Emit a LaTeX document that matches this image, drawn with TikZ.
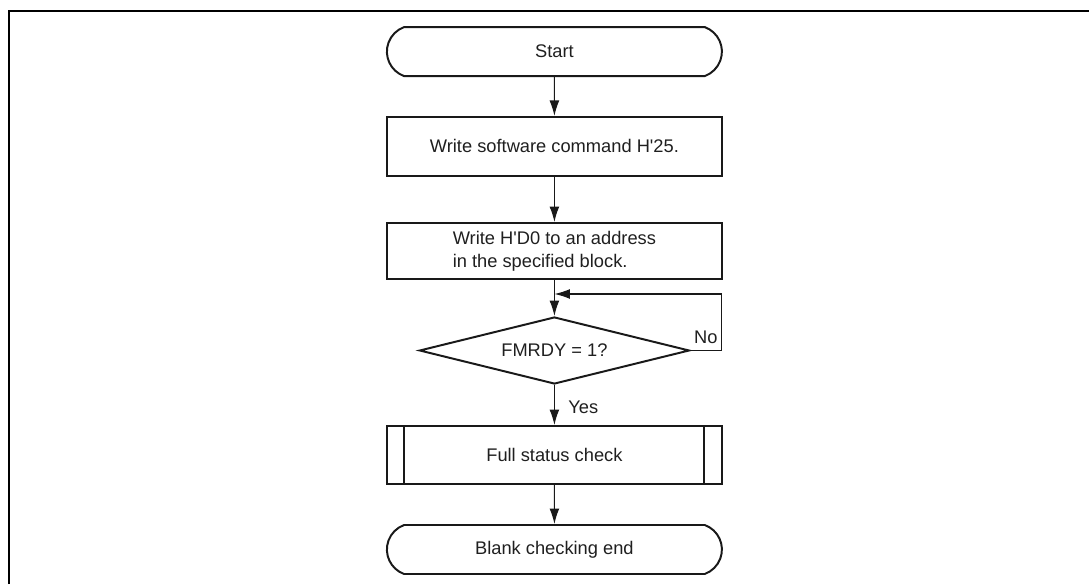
\documentclass[tikz,border=0pt]{standalone}
\usepackage{fontspec}
\setmainfont{Liberation Sans}
\usetikzlibrary{shapes.geometric,shapes.misc,arrows.meta}

\begin{document}
\begin{tikzpicture}[font=\fontsize{13}{16.4}\selectfont,
  box/.style={draw=black!90,line width=1.4pt,text=black!88,align=center,inner sep=0pt,minimum width=8.375cm},
  term/.style={box,rounded rectangle,rounded rectangle arc length=140,minimum height=1.225cm},
  dec/.style={box,diamond,aspect=4,minimum width=6.75cm,minimum height=1.675cm},
  flow/.style={-{Latex[length=11pt,width=7pt]},black!90,line width=0.8pt},
  lab/.style={text=black!88,inner sep=1.5pt}]

\useasboundingbox (0,0) rectangle (27.225,14.6);
% frame, right and bottom edges run off the page
\draw[black,line width=2.1pt] (0.225,0) -- (0.225,14.325) -- (27.225,14.325);

% steps
\node[term] (st) at (13.86,13.31) {Start};
\node[box,minimum height=1.475cm] (cmd) at (13.86,10.94) {Write software command H\textquotesingle 25.};
\node[box,minimum height=1.4cm,align=left] (adr) at (13.86,8.325) {Write H\textquotesingle D0 to an address\\in the specified block.};
\node[dec] (rdy) at (13.86,5.8375) {FMRDY = 1?};
\node[box,minimum height=1.45cm] (fsc) at (13.86,3.225) {Full status check};
\draw[black!90,line width=1.4pt] ([xshift=0.46cm]fsc.north west) -- ([xshift=0.46cm]fsc.south west)
  ([xshift=-0.47cm]fsc.north east) -- ([xshift=-0.47cm]fsc.south east);
\node[term] (en) at (13.86,0.8625) {Blank checking end};

% flow
\coordinate (jn) at (13.86,7.25);
\draw[flow] (st) -- (cmd);
\draw[flow] (cmd) -- (adr);
\draw[flow] (adr) -- (rdy);
\draw[flow] (rdy.east) -- node[lab,above=2.8pt]{No} ++(0.775,0) |- (jn);
\draw[flow] (rdy) -- node[lab,right=8pt,pos=0.55]{Yes} (fsc);
\draw[flow] (fsc) -- (en);
\end{tikzpicture}
\end{document}
